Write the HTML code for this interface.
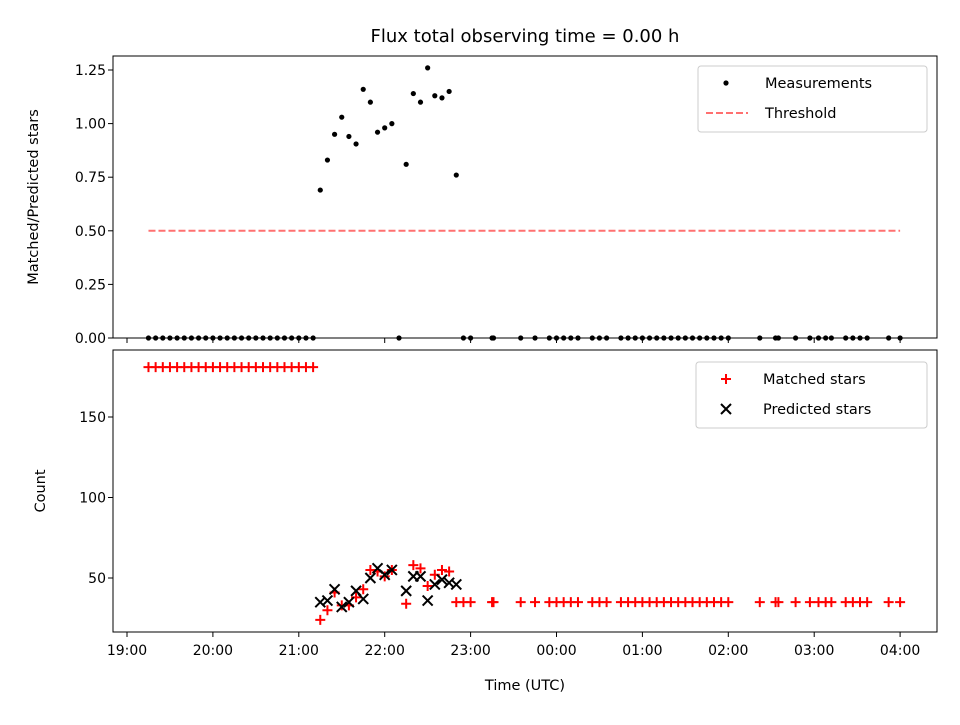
<!DOCTYPE html>
<html><head><meta charset="utf-8"><style>
body{margin:0;background:#fff;font-family:"Liberation Sans","DejaVu Sans",sans-serif}
svg text{font-family:"DejaVu Sans","Liberation Sans",sans-serif;fill:#000}
</style></head><body>
<svg id="chart" width="960" height="720">
<text x="525" y="42" font-size="18" text-anchor="middle">Flux total observing time = 0.00 h</text>
<g id="topPanel"></g>
<g id="botPanel"></g>
</svg>
<script>
// minutes after 19:00 UTC
const timesEarly=[15,20,25,30,35,40,45,50,55,60,65,70,75,80,85,90,95,100,105,110,115,120,125,130];
const timesMid=[135,140,145,150,155,160,165,170,175,180,185,190,195,200,205,210,215,220,225,230];
const ratioMid=[0.69,0.83,0.95,1.03,0.94,0.905,1.16,1.10,0.96,0.98,1.0,0,0.81,1.14,1.10,1.26,1.13,1.12,1.15,0.76];
const matchedMid=[24,30,41,33,33,38,43,55,54,51,55,null,34,58,56,45,52,55,54,35];
const predictedMid=[35,36,43,32,35,42,37,50,56,52,55,null,42,51,51,36,46,49,47,46];
const timesLate=[235,240,255,256,275,285,295,300,305,310,315,325,330,335,345,350,355,360,365,370,375,380,385,390,395,400,405,410,415,420,442,453,455,467,477,483,488,492,502,507,512,517,532,540];
const matchedEarly=181, matchedLate=35;
const xTicks=["19:00","20:00","21:00","22:00","23:00","00:00","01:00","02:00","03:00","04:00"];
const yTopTicks=[0,0.25,0.5,0.75,1.0,1.25];
const yBotTicks=[50,100,150];
const threshold=0.5, thrStart=15, thrEnd=540;

const NS="http://www.w3.org/2000/svg";
const gTop=document.getElementById('topPanel'), gBot=document.getElementById('botPanel');
function mk(p,t,a){const e=document.createElementNS(NS,t);for(const k in a)e.setAttribute(k,a[k]);p.appendChild(e);return e;}
const X0=113,X1=937;
const xs=m=>127+m/60*85.9;
const yT=v=>338-v*214.4;
const yB=v=>578-(v-50)*1.61;

const f1=mk(gTop,'rect',{x:X0,y:56,width:X1-X0,height:282,fill:'none',stroke:'#000','stroke-width':1});


const f2=mk(gBot,'rect',{x:X0,y:350,width:X1-X0,height:282,fill:'none',stroke:'#000','stroke-width':1});


xTicks.forEach((l,i)=>{const x=xs(i*60);
 mk(gTop,'line',{x1:x,x2:x,y1:338,y2:343,stroke:'#000'});
 mk(gBot,'line',{x1:x,x2:x,y1:632,y2:637,stroke:'#000'});
 const t=mk(gBot,'text',{x:x,y:655,'font-size':14,'text-anchor':'middle'});t.textContent=l;
 
 });
const xl=mk(gBot,'text',{x:525,y:690,'font-size':14.5,'text-anchor':'middle'});xl.textContent='Time (UTC)';


yTopTicks.forEach(v=>{const y=yT(v);mk(gTop,'line',{x1:X0-5,x2:X0,y1:y,y2:y,stroke:'#000'});
 const t=mk(gTop,'text',{x:X0-7,y:y+5,'font-size':14,'text-anchor':'end'});t.textContent=v.toFixed(2);
 
 });
yBotTicks.forEach(v=>{const y=yB(v);mk(gBot,'line',{x1:X0-5,x2:X0,y1:y,y2:y,stroke:'#000'});
 const t=mk(gBot,'text',{x:X0-7,y:y+5,'font-size':14,'text-anchor':'end'});t.textContent=v;
 
 });
let yl=mk(gTop,'text',{x:0,y:0,'font-size':14.5,'text-anchor':'middle',transform:'translate(38,197) rotate(-90)'});yl.textContent='Matched/Predicted stars';


yl=mk(gBot,'text',{x:0,y:0,'font-size':14.5,'text-anchor':'middle',transform:'translate(45,491) rotate(-90)'});yl.textContent='Count';



const th=mk(gTop,'line',{x1:xs(thrStart),x2:xs(thrEnd),y1:yT(threshold),y2:yT(threshold),stroke:'#ff7070','stroke-width':2,'stroke-dasharray':'7,3'});


function dot(t,v){const c=mk(gTop,'circle',{cx:xs(t),cy:yT(v),r:2.6,fill:'#000'});
 
 }
function plus(t,v){const x=xs(t),y=yB(v);const p=mk(gBot,'path',{d:`M${x-5},${y}H${x+5}M${x},${y-5}V${y+5}`,stroke:'#f00','stroke-width':2});
 
 }
function cross(t,v){const x=xs(t),y=yB(v);const p=mk(gBot,'path',{d:`M${x-5},${y-5}L${x+5},${y+5}M${x-5},${y+5}L${x+5},${y-5}`,stroke:'#000','stroke-width':2});
 
 }
timesEarly.forEach(t=>{dot(t,0);plus(t,matchedEarly);});
timesMid.forEach((t,i)=>{dot(t,ratioMid[i]);if(matchedMid[i]!=null)plus(t,matchedMid[i]);});
timesMid.forEach((t,i)=>{if(predictedMid[i]!=null)cross(t,predictedMid[i]);});
timesLate.forEach(t=>{dot(t,0);plus(t,matchedLate);});

function legend(g,x,y,w,items,name){const r=mk(g,'rect',{x:x,y:y,width:w,height:66,rx:3,fill:'#fff','fill-opacity':0.8,stroke:'#ccc'});
 
 
 items.forEach((it,i)=>{const cy=y+17+i*30;it.draw(x+22,cy);
  const t=mk(g,'text',{x:x+67,y:cy+5,'font-size':14.5});t.textContent=it.label;
  
  });}
legend(gTop,698,66,229,[{label:'Measurements',draw:(x,y)=>mk(gTop,'circle',{cx:x+6,cy:y,r:2.6,fill:'#000'})},
 {label:'Threshold',draw:(x,y)=>mk(gTop,'line',{x1:x-14,x2:x+28,y1:y,y2:y,stroke:'#ff7070','stroke-width':2,'stroke-dasharray':'7,3'})}],'top-legend');
legend(gBot,696,362,231,[{label:'Matched stars',draw:(x,y)=>mk(gBot,'path',{d:`M${x+3},${y}h10M${x+8},${y-5}v10`,stroke:'#f00','stroke-width':2})},
 {label:'Predicted stars',draw:(x,y)=>mk(gBot,'path',{d:`M${x+3},${y-5}l10,10M${x+3},${y+5}l10,-10`,stroke:'#000','stroke-width':2})}],'bottom-legend');
</script>
</body></html>
